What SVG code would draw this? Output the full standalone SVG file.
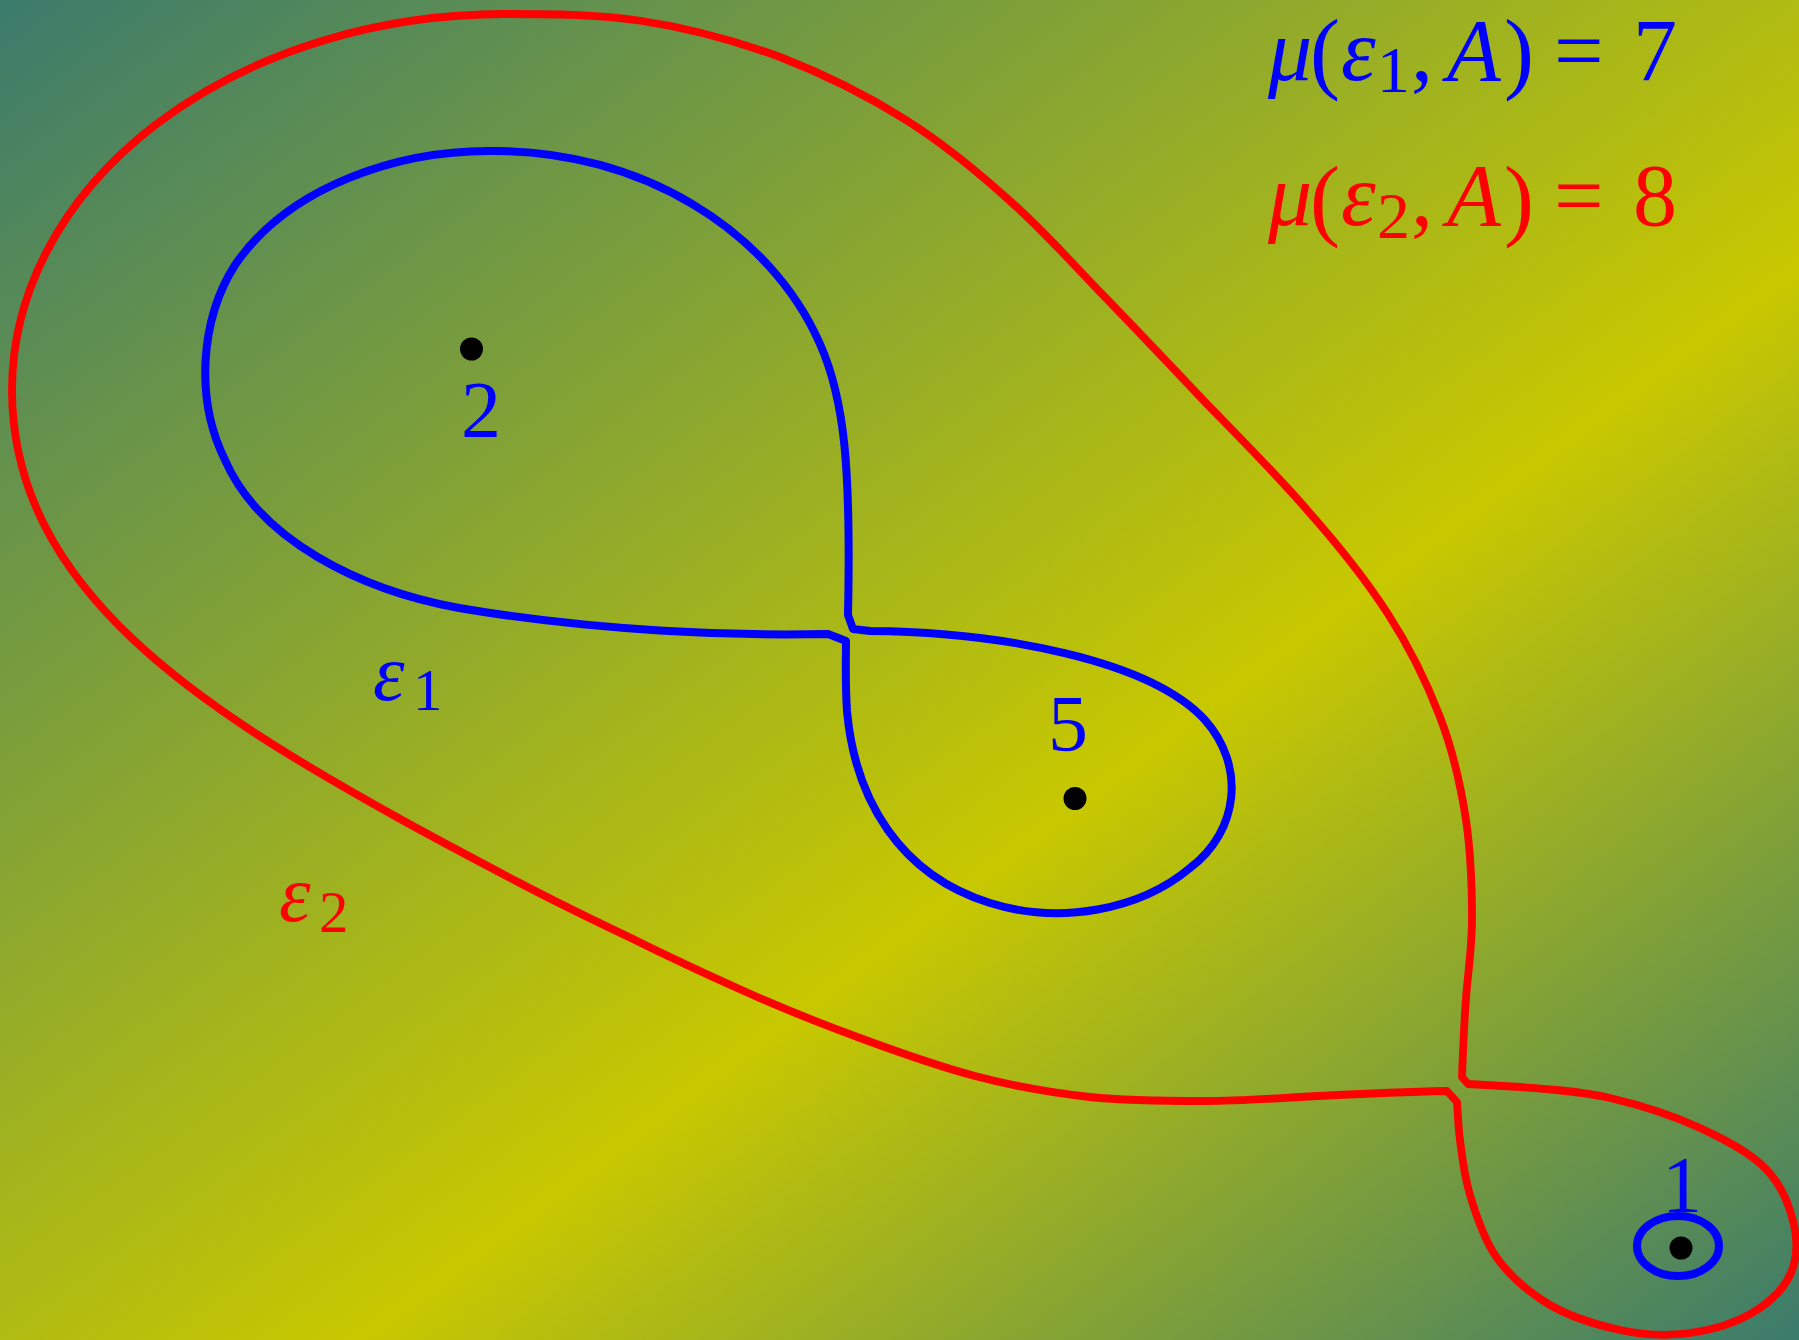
<svg xmlns="http://www.w3.org/2000/svg" width="1799" height="1340" viewBox="0 0 1799 1340">
<style>
.bg{fill:url(#bgGrad)}
.curve{fill:none;stroke-linejoin:round;stroke-linecap:butt}
.red{stroke:#ff0000;stroke-width:7.8}
.blue{stroke:#0000ff;stroke-width:8}
.dot{fill:#000000}
.math{font-family:"Liberation Serif","Times New Roman",serif;font-size:80px}
.big{font-size:88px}
.par{font-size:90px}
.it{font-style:italic}
.sub{font-size:59px}
.fsub{font-size:66px}
.lblB{fill:#0000ff}
.lblR{fill:#ff0000}
</style>
<defs>
<linearGradient id="bgGrad" x1="0" y1="0" x2="1" y2="1">
<stop offset="0" stop-color="#3b7b6c"/>
<stop offset="0.6" stop-color="#c8c800"/>
<stop offset="1" stop-color="#3b7b6c"/>
</linearGradient>
</defs>
<rect class="bg" x="0" y="0" width="1799" height="1340"/>

<g id="connectors">
<path id="eps2" class="curve red" d="M 1447,1091 C 1404,1092 1359,1094 1319,1096 C 1279,1098 1243,1101 1205,1101 C 1167,1101 1128,1101 1090,1097 C 1052,1093 1013,1086 975,1076 C 937,1066 898,1052 860,1038 C 822,1024 784,1009 746,992 C 708,975 669,957 631,938 C 593,920 554,901 516,881 C 478,861 440,841 402,820 C 202,709 12,590 12,390 A 493,376 0 0 1 505,14 C 549,14 596,14 642,21 C 688,28 736,41 780,57 C 824,74 868,96 906,120 C 944,144 978,172 1010,201 C 1043,230 1069,260 1101,293 C 1134,327 1171,366 1205,402 C 1240,438 1278,476 1308,511 C 1339,546 1366,580 1388,614 C 1410,648 1427,683 1440,717 C 1453,751 1461,787 1466,820 C 1471,854 1472,888 1472,918 C 1472,948 1468,972 1466,998 C 1464,1025 1463,1050 1462,1077 L 1468,1084 L 1520,1087 C 1548,1089 1580,1091 1610,1098 C 1640,1105 1674,1116 1700,1128 C 1726,1140 1749,1152 1765,1168 C 1781,1184 1790,1207 1794,1225 C 1798,1243 1797,1260 1790,1275 C 1783,1290 1769,1303 1752,1313 C 1735,1323 1712,1330 1690,1333 C 1668,1336 1643,1335 1620,1330 C 1597,1325 1571,1317 1550,1305 C 1530,1293 1510,1276 1497,1258 C 1484,1240 1476,1215 1470,1195 C 1464,1175 1462,1156 1460,1140 C 1458,1124 1458,1115 1457,1102 Z"/>
<path id="eps1" class="curve blue" d="M 828,634 C 740,636 600,632 459,608 C 360,590 260,540 225,460 C 195,400 200,320 235,265 C 290,185 400,150 493,151 C 640,150 770,230 820,344 C 845,400 851,470 848,615 L 853,629 L 870,631 C 1000,632 1150,660 1205,720 C 1245,765 1240,830 1190,868 C 1140,910 1060,925 990,903 C 900,875 855,800 847,711 C 845,680 846,660 846,641 Z"/>
<ellipse id="eps1small" class="curve blue" cx="1678" cy="1246" rx="41" ry="30" stroke-width="9"/>
</g>

<g id="node2">
<circle class="dot" cx="471.5" cy="349" r="11.5"/>
<text class="math lblB" x="481" y="437" text-anchor="middle">2</text>
</g>
<g id="node5">
<circle class="dot" cx="1075" cy="798.5" r="11.5"/>
<text class="math lblB" x="1068" y="751" text-anchor="middle">5</text>
</g>
<g id="node1">
<circle class="dot" cx="1681" cy="1248" r="11.5"/>
<text class="math lblB" x="1682" y="1212" text-anchor="middle">1</text>
</g>

<g id="label-eps1">
<text class="math lblB"><tspan class="it" x="373" y="700">ε</tspan><tspan class="sub" x="413" y="710">1</tspan></text>
</g>
<g id="label-eps2">
<text class="math lblR"><tspan class="it" x="279" y="921">ε</tspan><tspan class="sub" x="319" y="932">2</tspan></text>
</g>

<g id="formula1">
<text class="math big lblB"><tspan class="it" x="1268" y="80">μ</tspan><tspan class="par" x="1310" y="82">(</tspan><tspan class="it" x="1341" y="80">ε</tspan><tspan class="fsub" x="1377" y="92">1</tspan><tspan x="1411" y="80">,</tspan><tspan class="it" x="1447" y="80">A</tspan><tspan class="par" x="1504" y="82">)</tspan><tspan x="1554" y="80">=</tspan><tspan x="1633" y="80">7</tspan></text>
</g>
<g id="formula2">
<text class="math big lblR"><tspan class="it" x="1268" y="225">μ</tspan><tspan class="par" x="1310" y="229">(</tspan><tspan class="it" x="1341" y="225">ε</tspan><tspan class="fsub" x="1377" y="238">2</tspan><tspan x="1411" y="225">,</tspan><tspan class="it" x="1447" y="225">A</tspan><tspan class="par" x="1504" y="229">)</tspan><tspan x="1554" y="225">=</tspan><tspan x="1633" y="225">8</tspan></text>
</g>
</svg>
